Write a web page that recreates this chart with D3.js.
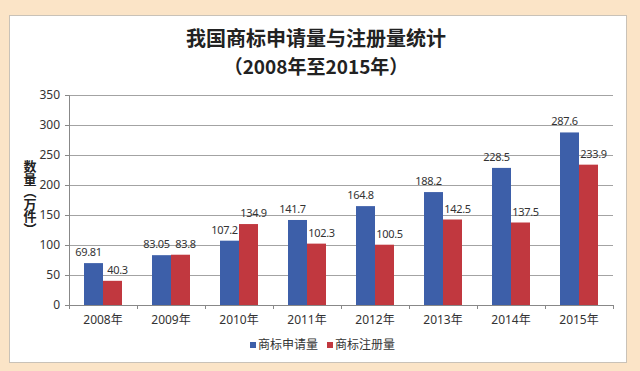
<!DOCTYPE html>
<html>
<head>
<meta charset="utf-8">
<script src="https://cdn.jsdelivr.net/npm/d3@7"></script>
<style>
  body { margin: 0; background: #fbe4c7; }
  svg { display: block; font-family: "Noto Sans", "Noto Sans CJK SC", sans-serif; }
</style>
</head>
<body>
<div id="chart"></div>
<script>
var years = ['2008年', '2009年', '2010年', '2011年', '2012年', '2013年', '2014年', '2015年'];
var applied = [69.81, 83.05, 107.2, 141.7, 164.8, 188.2, 228.5, 287.6];
var registered = [40.3, 83.8, 134.9, 102.3, 100.5, 142.5, 137.5, 233.9];
var seriesNames = ['商标申请量', '商标注册量'];
var yTicks = [0, 50, 100, 150, 200, 250, 300, 350];
var yTitle = '数量（万件）';
var colors = ['#3d5fa9', '#c1383f'];

var W = 640, H = 371;
var margin = {top: 95, right: 27, bottom: 66, left: 69};
var width = W - margin.left - margin.right, height = H - margin.top - margin.bottom;

var svg = d3.select('#chart').append('svg')
    .attr('width', W)
    .attr('height', H);

svg.append('rect')
    .attr('x', 9.5).attr('y', 15.5)
    .attr('width', 617).attr('height', 347)
    .attr('fill', '#fff')
    .attr('stroke', '#c9c2b8');

svg.append('text')
    .attr('x', 316).attr('y', 46)
    .attr('text-anchor', 'middle')
    .style('font-family', '"Noto Sans CJK SC"')
    .style('font-weight', 'bold')
    .style('font-size', '20px')
    .attr('fill', '#222')
    .text('我国商标申请量与注册量统计');
svg.append('text')
    .attr('x', 316).attr('y', 74)
    .attr('text-anchor', 'middle')
    .style('font-family', '"Noto Sans CJK SC"')
    .style('font-weight', 'bold')
    .style('font-size', '19px')
    .attr('fill', '#222')
    .text('（2008年至2015年）');

var g = svg.append('g')
    .attr('transform', 'translate(' + margin.left + ',' + margin.top + ')');

var x = d3.scaleBand().domain(years).range([0, width]);
var x1 = d3.scaleBand().domain([0, 1]).range([0, 38]);
var y = d3.scaleLinear().domain([0, 350]).range([height, 0]);

// gridlines
g.selectAll('.grid').data(yTicks.slice(1)).enter().append('line')
    .attr('x1', 0).attr('x2', width)
    .attr('y1', function (d) { return Math.round(y(d)) + 0.5 })
    .attr('y2', function (d) { return Math.round(y(d)) + 0.5 })
    .attr('stroke', '#a3a3a3');

var yAxis = g.append('g')
    .call(d3.axisLeft(y).tickValues(yTicks).tickSize(4).tickPadding(5));
var xAxis = g.append('g')
    .attr('transform', 'translate(0,' + height + ')')
    .call(d3.axisBottom(x).tickSize(0).tickPadding(10));
xAxis.selectAll('.tick').append('line')
    .attr('x1', x.bandwidth() / 2 + 0.5).attr('x2', x.bandwidth() / 2 + 0.5)
    .attr('y1', 0).attr('y2', 4)
    .attr('stroke', '#888');
g.append('line')
    .attr('x1', 0.5).attr('x2', 0.5).attr('y1', height).attr('y2', height + 4)
    .attr('stroke', '#888');

[yAxis, xAxis].forEach(function (a) {
    a.select('.domain').attr('stroke', '#888');
    a.selectAll('.tick line').attr('stroke', '#888');
    a.selectAll('text').style('font-size', '12px').attr('fill', '#333')
        .style('font-family', '"Noto Sans", "Noto Sans CJK SC"');
});

var series = [applied, registered];
var groups = g.selectAll('.year').data(years).enter().append('g')
    .attr('transform', function (d) { return 'translate(' + (x(d) + (x.bandwidth() - 38) / 2) + ',0)' });

groups.selectAll('rect')
    .data(function (d, i) { return series.map(function (s, k) { return {k: k, v: s[i]} }) })
    .enter().append('rect')
    .attr('x', function (d) { return x1(d.k) })
    .attr('y', function (d) { return y(d.v) })
    .attr('width', x1.bandwidth())
    .attr('height', function (d) { return height - y(d.v) })
    .attr('fill', function (d) { return colors[d.k] });

// labels sit a little outward from the pair, like the original
groups.selectAll('.lbl')
    .data(function (d, i) { return series.map(function (s, k) { return {k: k, v: s[i]} }) })
    .enter().append('text')
    .attr('x', function (d) { return x1(d.k) + x1.bandwidth() / 2 + (d.k ? 5 : -5) })
    .attr('y', function (d) { return y(d.v) - 7 })
    .attr('text-anchor', 'middle')
    .style('font-size', '11px')
    .style('letter-spacing', '-0.3px')
    .attr('fill', '#333')
    .text(function (d) { return d.v });

// y axis title, vertical text
svg.append('text')
    .attr('x', 30).attr('y', 160)
    .style('writing-mode', 'vertical-rl')
    .style('text-orientation', 'upright')
    .style('font-family', '"Noto Sans CJK SC"')
    .style('font-weight', 'bold')
    .style('font-size', '13px')
    .style('letter-spacing', '-0.5px')
    .attr('fill', '#222')
    .text(yTitle);

// legend
var legend = svg.append('g').attr('transform', 'translate(250,345)');
var lg = legend.selectAll('g').data(seriesNames).enter().append('g')
    .attr('transform', function (d, i) { return 'translate(' + (i * 77) + ',0)' });
lg.append('rect').attr('x', 0).attr('y', -3).attr('width', 6).attr('height', 6)
    .attr('fill', function (d, i) { return colors[i] });
lg.append('text').attr('x', 8).attr('y', 4)
    .style('font-family', '"Noto Sans CJK SC"')
    .style('font-size', '12px')
    .attr('fill', '#333')
    .text(function (d) { return d });
</script>
</body>
</html>
